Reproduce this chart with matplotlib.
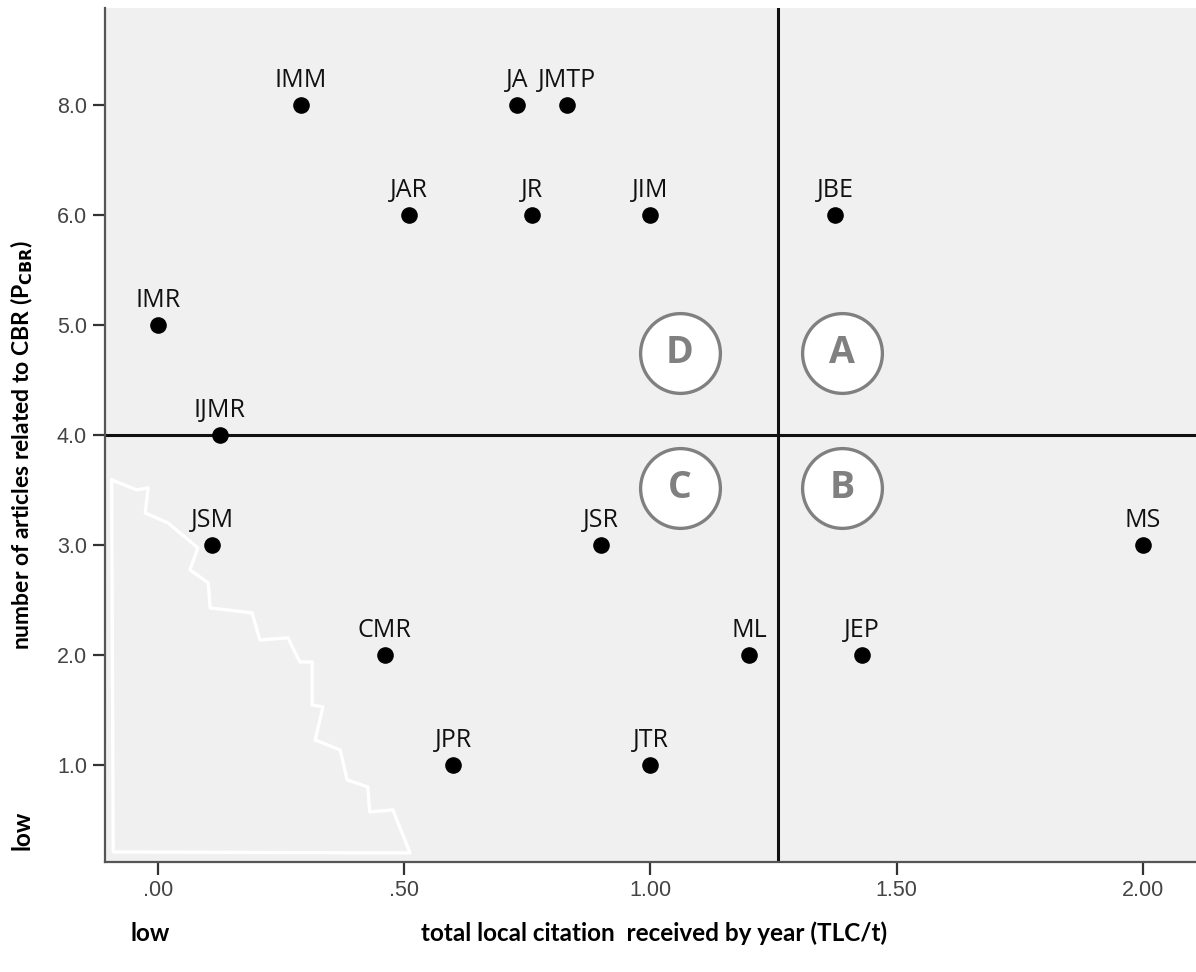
import numpy as np
import matplotlib
matplotlib.use("Agg")
import matplotlib.pyplot as plt

# journals: total local citation per year (x) vs number of CBR articles (y)
journals = ['IMM', 'JA', 'JMTP', 'JAR', 'JR', 'JIM', 'JBE', 'IMR', 'IJMR',
            'JSM', 'JSR', 'MS', 'CMR', 'ML', 'JEP', 'JPR', 'JTR']
tlc_per_year = [0.29, 0.73, 0.83, 0.51, 0.76, 1.00, 1.375, 0.00, 0.125,
                0.11, 0.90, 2.00, 0.46, 1.20, 1.43, 0.60, 1.00]
n_articles = [8, 8, 8, 6, 6, 6, 6, 5, 4,
              3, 3, 3, 2, 2, 2, 1, 1]

# y axis is drawn with evenly spaced levels (as in the SPSS output)
y_levels = [1.0, 2.0, 3.0, 4.0, 5.0, 6.0, 8.0]
y_ticklabels = ['1.0', '2.0', '3.0', '4.0', '5.0', '6.0', '8.0']
x_ticks = [0.0, 0.5, 1.0, 1.5, 2.0]
x_ticklabels = ['.00', '.50', '1.00', '1.50', '2.00']

x_cut = 1.26
y_cut = 4.0

quadrants = ['D', 'A', 'C', 'B']
quad_x = [1.06, 1.389, 1.06, 1.389]
quad_y = [4.745, 4.745, 3.518, 3.518]

# hand-drawn white outline in the lower left corner
outline = [(-0.094, 3.591), (-0.043, 3.50), (-0.020, 3.518), (-0.026, 3.291),
           (0.020, 3.20), (0.081, 2.973), (0.065, 2.773), (0.102, 2.655),
           (0.106, 2.427), (0.191, 2.382), (0.207, 2.136), (0.264, 2.155),
           (0.288, 1.936), (0.313, 1.936), (0.313, 1.545), (0.335, 1.527),
           (0.319, 1.227), (0.370, 1.136), (0.384, 0.864), (0.426, 0.80),
           (0.430, 0.573), (0.477, 0.591), (0.512, 0.20), (-0.091, 0.209),
           (-0.094, 3.591)]


def ypos(v):
    return y_levels.index(v) + 1


fig = plt.figure(figsize=(11.96, 9.72), dpi=100)
ax = fig.add_axes([0.0878, 0.1132, 0.9122, 0.8786])
ax.set_facecolor('#f0f0f0')

ox, oy = zip(*outline)
ax.plot(ox, oy, color='white', lw=2.4, zorder=1)

ax.axhline(ypos(y_cut), color='#111111', lw=2.2, zorder=2)
ax.axvline(x_cut, color='#111111', lw=2.2, zorder=2)

yp = [ypos(v) for v in n_articles]
ax.scatter(tlc_per_year, yp, s=120, color='black', zorder=4)
for name, x, y in zip(journals, tlc_per_year, yp):
    ax.annotate(name, (x, y), xytext=(0, 8.5), textcoords='offset points',
                ha='center', va='bottom', fontsize=18, family='Open Sans',
                color='#111111', zorder=5)

ax.scatter(quad_x, quad_y, s=3300, facecolor='white', edgecolor='#808080',
           linewidth=2.4, zorder=3)
for q, x, y in zip(quadrants, quad_x, quad_y):
    ax.text(x, y, q, ha='center', va='center', fontsize=27, fontweight='bold',
            family='Open Sans', color='#808080', zorder=4)

ax.set_xlim(-0.1076, 2.108)
ax.set_ylim(0.118, 7.88)
ax.set_xticks(x_ticks)
ax.set_xticklabels(x_ticklabels)
ax.set_yticks(range(1, len(y_levels) + 1))
ax.set_yticklabels(y_ticklabels)
ax.tick_params(axis='both', length=9, width=1.6, color='#333333',
               labelsize=15.5, labelcolor='#444444', pad=4)
for lab in ax.get_xticklabels() + ax.get_yticklabels():
    lab.set_family('Liberation Sans')

for s in ['top', 'right']:
    ax.spines[s].set_visible(False)
for s in ['left', 'bottom']:
    ax.spines[s].set_color('#555555')
    ax.spines[s].set_linewidth(1.6)

fig.text(654 / 1196, 1 - 933 / 972, 'total local citation  received by year (TLC/t)',
         ha='center', va='center', fontsize=17.5, fontweight='bold', family='Lato')
fig.text(150 / 1196, 1 - 933 / 972, 'low', ha='center', va='center',
         fontsize=17.5, fontweight='bold', family='Lato')
fig.text(22 / 1196, 1 - 445 / 972,
         r'number of articles related to CBR (P$_{\mathbf{CBR}}$)',
         ha='center', va='center', rotation=90, fontsize=16.5, fontweight='bold',
         family='Lato')
fig.text(22 / 1196, 1 - 830 / 972, 'low', ha='center', va='center', rotation=90,
         fontsize=17.5, fontweight='bold', family='Lato')

fig.savefig('out.png', dpi=100)
